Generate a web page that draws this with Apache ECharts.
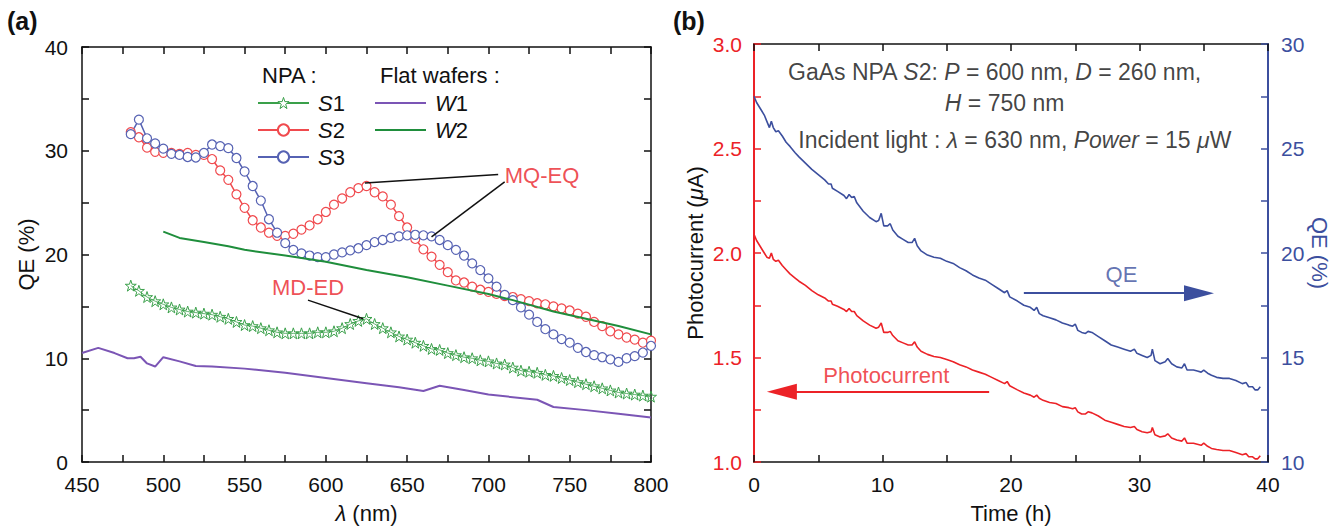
<!DOCTYPE html>
<html><head><meta charset="utf-8">
<script src="https://cdn.jsdelivr.net/npm/echarts@6/dist/echarts.min.js"></script>
<style>html,body{margin:0;padding:0;background:#fff}#c{width:1343px;height:529px}</style>
</head><body><div id="c"></div>
<script>
// ---------- Panel (a): QE spectra ----------
const wavelengthNPA = [480,485,490,495,500,505,510,515,520,525,530,535,540,545,550,555,560,565,570,575,580,585,590,595,600,605,610,615,620,625,630,635,640,645,650,655,660,665,670,675,680,685,690,695,700,705,710,715,720,725,730,735,740,745,750,755,760,765,770,775,780,785,790,795,800];
const qeS1 = [17.0,16.5,15.9,15.5,15.2,14.9,14.7,14.5,14.4,14.3,14.2,14.0,13.8,13.5,13.2,13.1,12.9,12.7,12.5,12.4,12.4,12.4,12.4,12.5,12.5,12.6,12.9,13.3,13.6,13.8,13.3,12.9,12.5,12.1,11.8,11.5,11.2,10.9,10.8,10.5,10.3,10.1,10.0,9.8,9.7,9.5,9.4,9.1,8.8,8.7,8.6,8.4,8.3,8.1,7.9,7.7,7.5,7.3,7.1,6.9,6.7,6.6,6.5,6.4,6.3];
const qeS2 = [31.8,31.3,30.3,29.9,29.8,29.8,29.7,29.8,29.6,29.6,29.2,28.1,27.2,25.8,24.5,23.3,22.6,22.1,21.8,21.8,22.0,22.4,22.8,23.4,24.1,24.8,25.4,26.0,26.4,26.6,26.0,25.6,24.8,23.7,22.6,21.5,20.5,19.8,19.0,18.3,17.5,17.3,16.9,16.6,16.4,16.2,16.0,15.9,15.7,15.5,15.3,15.2,15.0,14.8,14.6,14.3,14.0,13.5,13.1,12.6,12.3,12.0,11.8,11.5,11.7];
const qeS3 = [31.6,33.0,31.2,30.7,30.2,29.7,29.6,29.4,29.35,29.8,30.6,30.45,30.25,29.3,28.0,26.6,25.2,23.4,22.1,21.1,20.45,20.1,19.9,19.75,19.75,20.0,20.2,20.4,20.6,20.9,21.2,21.4,21.6,21.75,21.85,21.9,21.85,21.75,21.4,20.9,20.45,19.9,19.15,18.5,17.7,16.9,16.1,15.6,14.9,14.2,13.5,12.8,12.3,11.85,11.5,11.0,10.6,10.3,10.1,9.9,9.65,10.0,10.2,10.55,11.2];
const wavelengthW1 = [450,460,470,478,482,486,490,495,500,510,520,530,550,575,600,625,645,660,670,685,700,730,740,760,780,800];
const qeW1 = [10.5,11.0,10.5,10.0,10.0,10.15,9.5,9.2,10.1,9.7,9.25,9.2,9.0,8.6,8.1,7.6,7.2,6.85,7.35,6.95,6.5,6.0,5.3,5.0,4.65,4.3];
const wavelengthW2 = [500,510,525,540,550,575,600,625,650,675,700,715,740,760,780,800];
const qeW2 = [22.2,21.6,21.2,20.8,20.45,19.9,19.3,18.5,17.8,17.0,16.2,15.6,14.5,13.8,13.1,12.3];
const seriesNamesNPA = ['S1','S2','S3'];
const seriesNamesFlat = ['W1','W2'];
// annotations of panel (a), in data units (nm, %)
const mqeqLines = [[[624,26.9],[706,27.7]], [[665,21.7],[710,27.0]]];
const mqeqLabel = [733,27.6];
const mdedLines = [[[589,15.6],[623,13.8]]];
const mdedLabel = [589,16.8];

// ---------- Panel (b): stability over time ----------
const timeHours = [0,0.2,0.5,0.8,1.0,1.2,1.35,1.5,1.7,1.9,2.2,2.5,2.8,3.2,3.5,4.0,4.5,5.0,5.5,5.8,6.0,6.1,6.5,7.0,7.2,7.4,7.6,7.8,8.0,8.5,9.0,9.5,9.7,9.9,10.1,10.4,10.6,10.8,11.2,11.6,12.0,12.3,12.5,12.7,13.0,13.5,14.0,14.5,15.0,15.5,16.0,16.5,17.0,17.5,18.0,18.5,19.0,19.5,19.7,19.9,20.5,21.0,21.5,21.8,22.0,22.2,22.5,23.0,23.5,24.0,24.5,24.8,25.0,25.2,25.5,25.8,26.0,26.3,26.8,27.3,27.8,28.3,28.8,29.3,29.6,29.8,30.2,30.6,30.9,31.0,31.2,31.6,32.0,32.2,32.5,32.9,33.3,33.5,33.7,34.2,34.5,34.8,35.0,35.3,35.6,36.0,36.5,37.0,37.5,38.0,38.3,38.5,38.8,39.0,39.2,39.4];
const qePercent = [27.5,27.2,26.9,26.6,26.3,26.0,26.3,26.0,25.8,25.85,
25.6,25.3,25.1,24.8,24.6,24.3,24.0,23.75,23.5,23.3,
23.3,23.1,22.95,22.75,22.6,22.8,22.65,22.7,22.4,22.0,
21.7,21.5,21.55,21.9,21.3,21.3,21.4,21.1,20.8,20.65,
20.5,20.5,20.7,20.35,20.1,19.9,19.8,19.75,19.6,19.5,
19.3,19.15,18.95,18.8,18.7,18.5,18.3,18.1,18.2,17.9,
17.7,17.5,17.4,17.25,17.4,17.1,17.0,16.9,16.8,16.65,
16.55,16.5,16.6,16.3,16.2,16.15,16.25,16.2,16.0,15.8,
15.6,15.5,15.4,15.3,15.4,15.2,15.1,15.0,15.1,15.4,
14.85,14.7,14.8,14.95,14.7,14.55,14.5,14.7,14.4,14.4,
14.35,14.3,14.4,14.25,14.15,14.05,14.0,14.0,13.9,13.75,
13.8,13.6,13.6,13.45,13.45,13.6];
const photocurrentMicroA = [2.09,2.06,2.03,2.0,1.98,1.975,2.0,1.97,1.96,1.965,
1.94,1.92,1.9,1.88,1.865,1.845,1.82,1.80,1.785,1.77,
1.77,1.755,1.745,1.73,1.72,1.735,1.72,1.72,1.70,1.675,
1.655,1.64,1.645,1.665,1.62,1.62,1.625,1.605,1.58,1.57,
1.56,1.56,1.575,1.55,1.53,1.515,1.505,1.5,1.49,1.48,
1.465,1.455,1.44,1.43,1.42,1.405,1.39,1.375,1.385,1.365,
1.345,1.33,1.32,1.31,1.32,1.305,1.295,1.285,1.28,1.265,
1.26,1.255,1.26,1.24,1.23,1.23,1.24,1.235,1.22,1.20,
1.19,1.18,1.17,1.165,1.17,1.155,1.145,1.14,1.145,1.165,
1.13,1.12,1.125,1.135,1.115,1.105,1.1,1.115,1.09,1.09,
1.085,1.08,1.09,1.075,1.065,1.06,1.055,1.055,1.045,1.035,
1.04,1.025,1.025,1.015,1.015,1.03];
// annotations of panel (b), in data units (h, μA or %)
const infoLine1At = [18.7, 2.865];
const infoLine2At = [19.5, 2.72];
const infoLine3At = [20.3, 2.54];
const qeArrow = [[21.0,18.08],[34.4,18.08]];
const qeArrowHead = [34.63,18.08];
const qeLabelAt = [28.6,18.97];
const pcArrow = [[18.3,1.336],[2.4,1.336]];
const pcArrowHead = [2.17,1.336];
const pcLabelAt = [10.3,1.415];

// ---------- styling ----------
const FONT = '"Liberation Sans", Arial, Helvetica, sans-serif';
const INK = '#111111';
const RED_B = '#ec2227', BLUE_B = '#3c4f9e';
const COL_S1 = '#3aa04a', COL_S2 = '#f04a4e', COL_S3 = '#5662b3', COL_W1 = '#7b55b5', COL_W2 = '#1f8e3c', ANNOT_RED = '#ea2229';
const STAR = 'path://M50,2 L61.5,36 L97,36 L68.5,57.5 L79,92 L50,71 L21,92 L31.5,57.5 L3,36 L38.5,36 Z';
const ARROW_HEAD = 'path://M0,0 L30,8 L0,16 Z';
const LINE_ICON = 'path://M0,0 L51,0 L51,2 L0,2 Z';

const zip = (xs, ys) => xs.map((x, i) => [x, ys[i]]);

function axis(o) {
  const c = o.color || INK;
  const a = {
    type: 'value', gridIndex: o.grid, position: o.position, min: o.min, max: o.max, interval: o.interval,
    axisLine: { show: true, onZero: false, lineStyle: { color: c, width: o.lw || 1.5 } },
    axisTick: { show: true, inside: true, length: 7, lineStyle: { color: c, width: 1.5 } },
    minorTick: { show: true, splitNumber: 2, length: 7, lineStyle: { color: c, width: 1.5 } },
    splitLine: { show: false }
  };
  if (o.labels) {
    a.axisLabel = { show: true, fontFamily: FONT, fontSize: 21, color: o.labelColor || INK, margin: o.margin };
    if (o.fmt) a.axisLabel.formatter = o.fmt;
  } else {
    a.axisLabel = { show: false };
  }
  if (o.name) {
    a.name = o.name;
    a.nameLocation = 'middle';
    a.nameGap = o.nameGap;
    if (o.nameRotate !== undefined) a.nameRotate = o.nameRotate;
    a.nameTextStyle = { fontFamily: FONT, fontSize: 22, color: o.nameColor || INK,
      rich: { i: { fontStyle: 'italic', fontFamily: FONT, fontSize: 22, color: o.nameColor || INK } } };
  }
  return a;
}

function textPoint(name, xi, yi, at, label) {
  return {
    name, type: 'scatter', xAxisIndex: xi, yAxisIndex: yi, silent: true, symbolSize: 0,
    data: [at], label: Object.assign({ show: true, position: 'inside', fontFamily: FONT }, label), z: 6
  };
}
function segs(name, xi, yi, list, color, width) {
  return {
    name, type: 'lines', coordinateSystem: 'cartesian2d', xAxisIndex: xi, yAxisIndex: yi, silent: true,
    polyline: false, symbol: ['none', 'none'],
    lineStyle: { color, width, opacity: 1, curveness: 0 },
    data: list.map(c => ({ coords: c })), z: 6
  };
}

const richLegend = {
  i: { fontStyle: 'italic', fontFamily: FONT, fontSize: 22, color: INK },
  n: { fontFamily: FONT, fontSize: 22, color: INK }
};
const legendFmt = name => '{i|' + name[0] + '}{n|' + name.slice(1) + '}';
const infoRich = {
  n: { fontFamily: FONT, fontSize: 23, color: INK },
  i: { fontFamily: FONT, fontSize: 23, color: INK, fontStyle: 'italic' }
};

const option = {
  animation: false,
  backgroundColor: '#fff',
  grid: [
    { left: 82, top: 47, width: 569, height: 415 },
    { left: 754, top: 44, width: 514, height: 419 }
  ],
  xAxis: [
    axis({ grid: 0, position: 'bottom', min: 450, max: 800, interval: 50, labels: true, margin: 12,
      name: '{i|λ} (nm)', nameGap: 40 }),
    axis({ grid: 0, position: 'top', min: 450, max: 800, interval: 50 }),
    axis({ grid: 1, position: 'bottom', min: 0, max: 40, interval: 10, labels: true, margin: 12,
      name: 'Time (h)', nameGap: 40 }),
    axis({ grid: 1, position: 'top', min: 0, max: 40, interval: 10 })
  ],
  yAxis: [
    axis({ grid: 0, position: 'left', min: 0, max: 40, interval: 10, labels: true, margin: 14,
      name: 'QE (%)', nameGap: 45 }),
    axis({ grid: 0, position: 'right', min: 0, max: 40, interval: 10 }),
    axis({ grid: 1, position: 'left', min: 1.0, max: 3.0, interval: 0.5, labels: true, margin: 12,
      color: RED_B, labelColor: RED_B, lw: 2, fmt: v => v.toFixed(1),
      name: 'Photocurrent ({i|μ}A)', nameGap: 48 }),
    axis({ grid: 1, position: 'right', min: 10, max: 30, interval: 5, labels: true, margin: 13,
      color: BLUE_B, labelColor: BLUE_B, lw: 2, nameColor: BLUE_B,
      name: 'QE (%)', nameGap: 38, nameRotate: -90 })
  ],
  legend: [
    { data: [
        { name: 'S1', itemStyle: { color: '#fff', borderColor: COL_S1, borderWidth: 1 } },
        { name: 'S2' }, { name: 'S3' } ],
      orient: 'vertical', left: 257, top: 92, padding: 0, itemWidth: 51, itemHeight: 14, itemGap: 5,
      selectedMode: false, formatter: legendFmt, textStyle: { rich: richLegend, padding: [0, 0, 0, 4] } },
    { data: [ { name: 'W1', icon: LINE_ICON }, { name: 'W2', icon: LINE_ICON } ],
      orient: 'vertical', left: 375, top: 92, padding: 0, itemWidth: 51, itemHeight: 14, itemGap: 5,
      selectedMode: false, formatter: legendFmt, textStyle: { rich: richLegend, padding: [0, 0, 0, 4] } }
  ],
  graphic: [
    { type: 'text', left: 7, top: 8, style: { text: '(a)', fontFamily: FONT, fontSize: 25, fontWeight: 'bold', fill: INK } },
    { type: 'text', left: 673, top: 8, style: { text: '(b)', fontFamily: FONT, fontSize: 25, fontWeight: 'bold', fill: INK } },
    { type: 'text', left: 262, top: 64, style: { text: 'NPA :', fontFamily: FONT, fontSize: 22, fill: INK } },
    { type: 'text', left: 380, top: 64, style: { text: 'Flat wafers :', fontFamily: FONT, fontSize: 22, fill: INK } }
  ],
  series: [
    { name: 'S1', type: 'line', xAxisIndex: 0, yAxisIndex: 0, data: zip(wavelengthNPA, qeS1),
      symbol: STAR, symbolSize: 11, showSymbol: true,
      itemStyle: { color: 'rgba(255,255,255,0)', borderColor: COL_S1, borderWidth: 1 },
      lineStyle: { color: COL_S1, width: 0.8 }, z: 2 },
    { name: 'S2', type: 'line', xAxisIndex: 0, yAxisIndex: 0, data: zip(wavelengthNPA, qeS2),
      symbol: 'circle', symbolSize: 9, showSymbol: true,
      itemStyle: { color: '#fff', borderColor: COL_S2, borderWidth: 1.2 },
      lineStyle: { color: COL_S2, width: 1.5 }, z: 2 },
    { name: 'S3', type: 'line', xAxisIndex: 0, yAxisIndex: 0, data: zip(wavelengthNPA, qeS3),
      symbol: 'circle', symbolSize: 9, showSymbol: true,
      itemStyle: { color: '#fff', borderColor: COL_S3, borderWidth: 1.2 },
      lineStyle: { color: COL_S3, width: 1.5 }, z: 2 },
    { name: 'W1', type: 'line', xAxisIndex: 0, yAxisIndex: 0, data: zip(wavelengthW1, qeW1),
      symbol: 'none', showSymbol: false, itemStyle: { color: COL_W1 }, lineStyle: { color: COL_W1, width: 2 }, z: 3 },
    { name: 'W2', type: 'line', xAxisIndex: 0, yAxisIndex: 0, data: zip(wavelengthW2, qeW2),
      symbol: 'none', showSymbol: false, itemStyle: { color: COL_W2 }, lineStyle: { color: COL_W2, width: 2 }, z: 3 },
    segs('mqeq-lines', 0, 0, mqeqLines, INK, 1.5),
    segs('mded-lines', 0, 0, mdedLines, INK, 1.5),
    textPoint('mqeq-text', 0, 0, mqeqLabel, { formatter: 'MQ-EQ', fontSize: 22, color: ANNOT_RED }),
    textPoint('mded-text', 0, 0, mdedLabel, { formatter: 'MD-ED', fontSize: 22, color: ANNOT_RED }),

    { name: 'Photocurrent', type: 'line', xAxisIndex: 2, yAxisIndex: 2, data: zip(timeHours, photocurrentMicroA),
      symbol: 'none', showSymbol: false, lineStyle: { color: RED_B, width: 1.6 }, itemStyle: { color: RED_B }, z: 3 },
    { name: 'QE', type: 'line', xAxisIndex: 2, yAxisIndex: 3, data: zip(timeHours, qePercent),
      symbol: 'none', showSymbol: false, lineStyle: { color: BLUE_B, width: 1.6 }, itemStyle: { color: BLUE_B }, z: 3 },
    segs('qe-arrow', 2, 3, [qeArrow], BLUE_B, 2),
    segs('pc-arrow', 2, 2, [pcArrow], RED_B, 2),
    { name: 'qe-arrowhead', type: 'scatter', xAxisIndex: 2, yAxisIndex: 3, silent: true, data: [qeArrowHead],
      symbol: ARROW_HEAD, symbolSize: [30, 16], symbolKeepAspect: false, itemStyle: { color: BLUE_B, opacity: 1 }, z: 6 },
    { name: 'pc-arrowhead', type: 'scatter', xAxisIndex: 2, yAxisIndex: 2, silent: true, data: [pcArrowHead],
      symbol: ARROW_HEAD, symbolSize: [30, 16], symbolRotate: 180, symbolKeepAspect: false, itemStyle: { color: RED_B, opacity: 1 }, z: 6 },
    textPoint('qe-text', 2, 3, qeLabelAt, { formatter: 'QE', fontSize: 22, color: BLUE_B }),
    textPoint('pc-text', 2, 2, pcLabelAt, { formatter: 'Photocurrent', fontSize: 22, color: RED_B }),
    textPoint('info-1', 2, 2, infoLine1At, { formatter: '{n|GaAs NPA }{i|S}{n|2: }{i|P}{n| = 600 nm, }{i|D}{n| = 260 nm,}', rich: infoRich }),
    textPoint('info-2', 2, 2, infoLine2At, { formatter: '{i|H}{n| = 750 nm}', rich: infoRich }),
    textPoint('info-3', 2, 2, infoLine3At, { formatter: '{n|Incident light : }{i|λ}{n| = 630 nm, }{i|Power}{n| = 15 }{i|μ}{n|W}', rich: infoRich })
  ]
};

const chart = echarts.init(document.getElementById('c'), null, { renderer: 'svg', width: 1343, height: 529 });
chart.setOption(option);
</script>
</body></html>
